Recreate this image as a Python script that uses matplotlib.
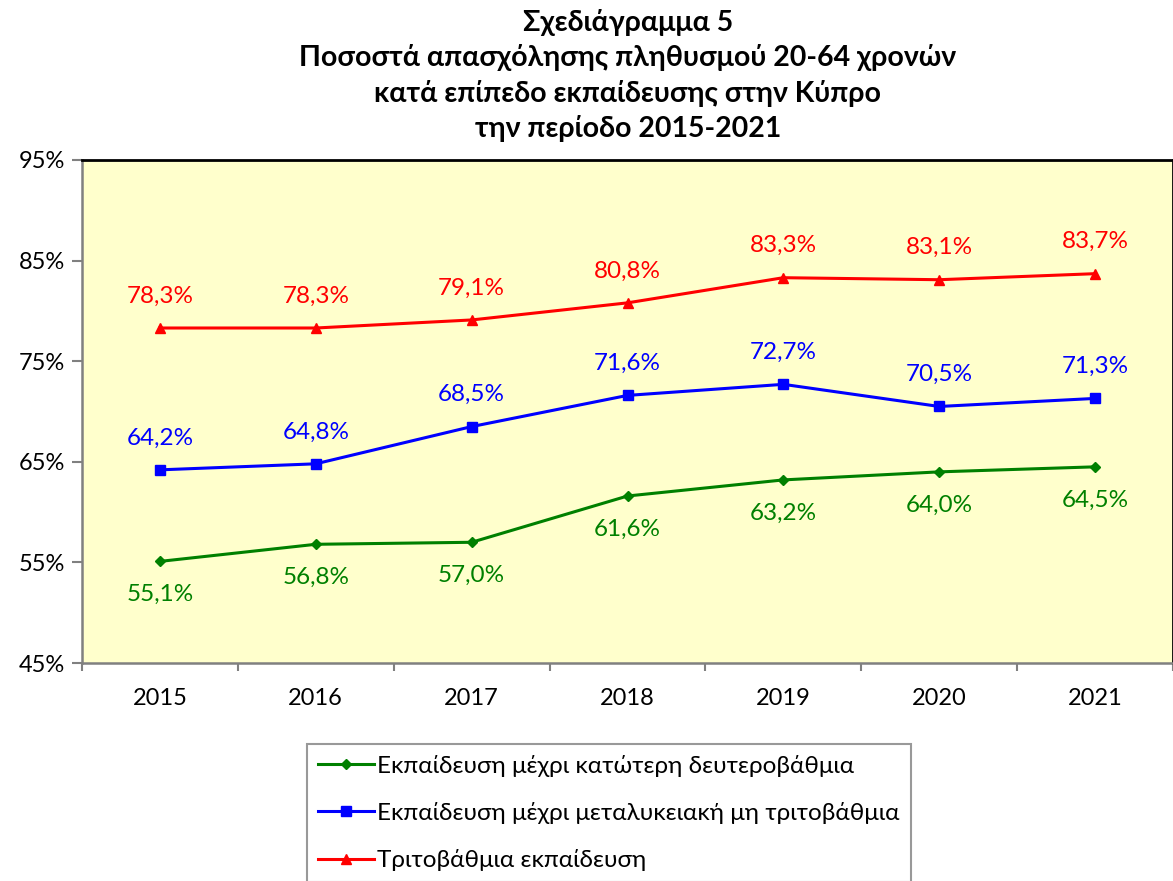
import numpy as np
import matplotlib
matplotlib.use("Agg")
import matplotlib.pyplot as plt

plt.rcParams['font.family'] = ['Lato', 'DejaVu Sans']

years = ['2015', '2016', '2017', '2018', '2019', '2020', '2021']
lower_sec = [55.1, 56.8, 57.0, 61.6, 63.2, 64.0, 64.5]
upper_sec = [64.2, 64.8, 68.5, 71.6, 72.7, 70.5, 71.3]
tertiary = [78.3, 78.3, 79.1, 80.8, 83.3, 83.1, 83.7]
names = ['Εκπαίδευση μέχρι κατώτερη δευτεροβάθμια',
         'Εκπαίδευση μέχρι μεταλυκειακή μη τριτοβάθμια',
         'Τριτοβάθμια εκπαίδευση']
yticks = [45, 55, 65, 75, 85, 95]

fig = plt.figure(figsize=(11.73, 8.81), dpi=100)
ax = fig.add_axes([82/1173, 218/881, 1 - 82/1173, 503/881])
ax.set_facecolor('#FFFFCC')

x = np.arange(len(years))
series = [(lower_sec, '#008000', 'D', 5, -24),
          (upper_sec, '#0000FF', 's', 6.5, 23),
          (tertiary, '#FF0000', '^', 7, 23)]
handles = []
for (vals, col, mk, ms, off), nm in zip(series, names):
    h, = ax.plot(x, vals, color=col, lw=2.2, marker=mk, markersize=ms, label=nm)
    handles.append(h)
    for xi, v in zip(x, vals):
        ax.annotate(f'{v:.1f}%'.replace('.', ','), (xi, v), xytext=(0, off),
                    textcoords='offset points', ha='center', va='center',
                    fontsize=17.5, color=col)

ax.set_xlim(-0.5, len(years) - 0.5)
ax.set_ylim(45, 95)
ax.set_yticks(yticks)
ax.set_yticklabels([f'{t}%' for t in yticks], fontsize=17)
ax.set_xticks(x)
ax.set_xticklabels(years, fontsize=17)
# tick marks between categories, like the original
ax.set_xticks(np.arange(-0.5, len(years), 1), minor=True)
ax.tick_params(axis='x', which='major', length=0, pad=18)
ax.tick_params(axis='x', which='minor', length=6, width=1.5, color='#808080', direction='out')
ax.tick_params(axis='y', length=7, width=1.5, color='#808080', pad=5)
for s in ['left', 'bottom']:
    ax.spines[s].set_color('#808080')
    ax.spines[s].set_linewidth(1.8)
for s in ['top', 'right']:
    ax.spines[s].set_color('black')
    ax.spines[s].set_linewidth(2)

title = ('Σχεδιάγραμμα 5\nΠοσοστά απασχόλησης πληθυσμού 20-64 χρονών\n'
         'κατά επίπεδο εκπαίδευσης στην Κύπρο\nτην περίοδο 2015-2021')
fig.text(628/1173, 1 - 9/881, title, ha='center', va='top', fontsize=20.5,
         fontweight='bold', linespacing=1.38)

leg = fig.legend(handles=handles, loc='upper left', bbox_to_anchor=(307/1173, 1 - 744/881),
                 fontsize=17.5, frameon=True, fancybox=False, edgecolor='#808080',
                 handlelength=2.3, handletextpad=0.15, labelspacing=1.03,
                 borderpad=0.45, borderaxespad=0)
leg.get_frame().set_linewidth(1.5)

fig.savefig('out.png', dpi=100)
